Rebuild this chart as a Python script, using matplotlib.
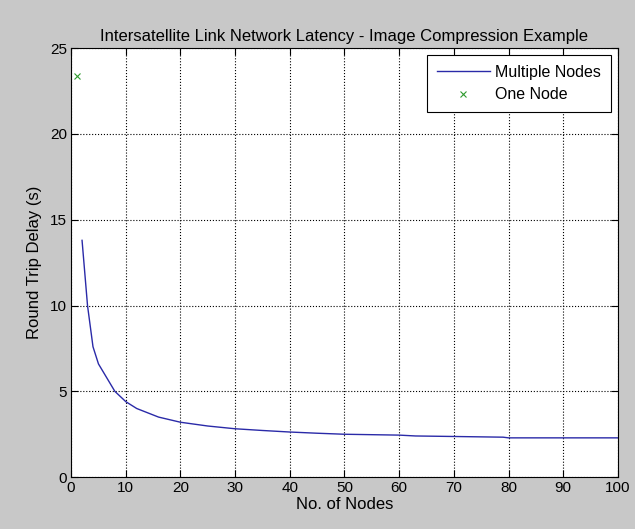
import matplotlib
matplotlib.use('Agg')
import matplotlib.pyplot as plt

# Round trip delay vs number of nodes
nodes = [2, 3, 4, 5, 8, 10, 12, 14, 16, 18, 20, 25, 30, 35, 40, 45, 50, 60, 63, 70, 79, 80, 90, 100]
delay = [13.8, 10.0, 7.6, 6.6, 5.0, 4.4, 4.0, 3.75, 3.5, 3.35, 3.2, 2.98, 2.82, 2.72, 2.63, 2.56, 2.5,
         2.45, 2.4, 2.37, 2.33, 2.29, 2.29, 2.29]

one_node_x = [1]
one_node_y = [23.4]

x_ticks = list(range(0, 101, 10))
y_ticks = [0, 5, 10, 15, 20, 25]

plt.rcParams['font.family'] = ['Liberation Sans', 'DejaVu Sans']
plt.rcParams['font.size'] = 12

fig = plt.figure(figsize=(6.35, 5.29), dpi=100, facecolor='#c8c8c8')
ax = fig.add_axes([0.112, 0.098, 0.861, 0.811])
ax.set_facecolor('white')

ax.plot(nodes, delay, color='#2a2aa8', linewidth=1.0, label='Multiple Nodes')
ax.plot(one_node_x, one_node_y, linestyle='none', marker='x', color='#2e9a2e',
        markersize=4, markeredgewidth=0.8, label='One Node')

ax.set_xlim(0, 100)
ax.set_ylim(0, 25)
ax.set_xticks(x_ticks)
ax.set_yticks(y_ticks)
ax.grid(True, linestyle=':', color='black', linewidth=0.8)
ax.tick_params(direction='in', top=True, right=True, length=5, width=0.8, colors='black',
               labelsize=11, pad=3)
for spine in ax.spines.values():
    spine.set_linewidth(0.8)

ax.set_title('Intersatellite Link Network Latency - Image Compression Example', fontsize=12, pad=5)
ax.set_xlabel('No. of Nodes', labelpad=1)
ax.set_ylabel('Round Trip Delay (s)', labelpad=6)

leg = ax.legend(loc='upper right', fancybox=False, framealpha=1, edgecolor='black', fontsize=11.5,
                borderaxespad=0.45, handlelength=3.3, handletextpad=0.35, borderpad=0.6,
                labelspacing=0.45)
leg.get_frame().set_linewidth(0.8)

fig.savefig('out.png', dpi=100, facecolor=fig.get_facecolor())
